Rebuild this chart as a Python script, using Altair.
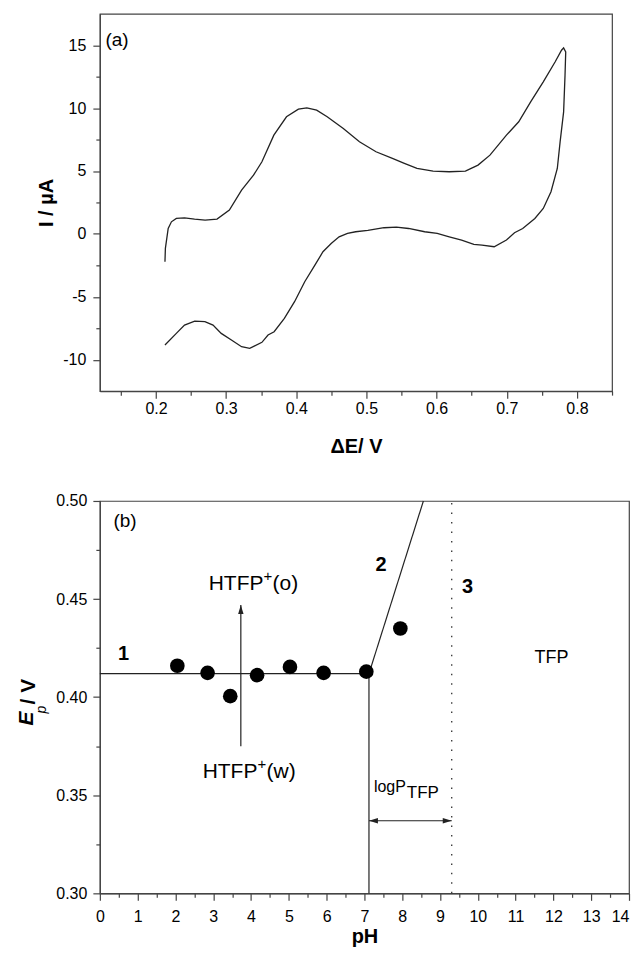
import altair as alt
import pandas as pd

FONT = "Liberation Sans"
INK = "#222222"
FRAME = "#444444"

# ---------------- (a) cyclic voltammogram ----------------
cv_E = [0.2128, 0.2134, 0.2174, 0.222, 0.229, 0.2407, 0.255, 0.270, 0.287, 0.3046,
        0.322, 0.339, 0.351, 0.368, 0.386, 0.403, 0.415, 0.429, 0.444, 0.467,
        0.490, 0.5136, 0.537, 0.554, 0.572, 0.595, 0.618, 0.641, 0.659, 0.676,
        0.6995, 0.717, 0.734, 0.752, 0.769, 0.778, 0.781, 0.784, 0.783, 0.781,
        0.776, 0.772, 0.763, 0.752, 0.740, 0.7227, 0.711, 0.6995, 0.682, 0.6647,
        0.653, 0.6356, 0.618, 0.6008, 0.583, 0.560, 0.5427, 0.525, 0.502, 0.4846,
        0.473, 0.461, 0.4497, 0.438, 0.4265, 0.412, 0.3975, 0.383, 0.3684, 0.3597,
        0.351, 0.3336, 0.322, 0.3075, 0.293, 0.2813, 0.2697, 0.2552, 0.2407, 0.229,
        0.2128]
cv_I = [-2.21, -1.15, 0.43, 0.96, 1.23, 1.28, 1.18, 1.10, 1.18, 1.89,
        3.48, 4.67, 5.73, 7.85, 9.31, 9.92, 10.02, 9.84, 9.31, 8.38,
        7.32, 6.53, 6.0, 5.60, 5.2, 4.99, 4.94, 4.99, 5.47, 6.26,
        7.85, 8.91, 10.5, 12.09, 13.68, 14.6, 14.79, 14.47, 12.6, 9.7,
        7.32, 5.2, 3.35, 2.02, 1.23, 0.43, 0.09, -0.49, -1.02, -0.89,
        -0.84, -0.49, -0.23, 0.04, 0.17, 0.43, 0.54, 0.49, 0.28, 0.17,
        0.04, -0.23, -0.76, -1.42, -2.48, -3.80, -5.39, -6.72, -7.78, -8.04,
        -8.62, -9.1, -8.97, -8.44, -7.91, -7.25, -6.98, -6.93, -7.25, -7.91,
        -8.83]

a_x_ticks = [0.15, 0.2, 0.25, 0.3, 0.35, 0.4, 0.45, 0.5, 0.55, 0.6, 0.65, 0.7, 0.75, 0.8, 0.85]
a_y_ticks = [-10, -7.5, -5, -2.5, 0, 2.5, 5, 7.5, 10, 12.5, 15]

# ---------------- (b) Ep vs pH ----------------
ph_vals = [2.05, 2.85, 3.45, 4.16, 5.03, 5.92, 7.05, 7.95]
ep_vals = [0.416, 0.4124, 0.4005, 0.4112, 0.4154, 0.4124, 0.413, 0.435]

seg_x1 = [0.0, 7.12, 7.12, 3.73, 7.12]
seg_y1 = [0.412, 0.300, 0.412, 0.375, 0.337]
seg_x2 = [7.12, 7.12, 8.56, 3.73, 9.31]
seg_y2 = [0.412, 0.412, 0.500, 0.447, 0.337]

dot_x = [9.31]
dot_y1 = [0.30]
dot_y2 = [0.50]

head_x = [3.73, 7.12, 9.31]
head_y = [0.447, 0.337, 0.337]
head_path = ["M0,0L-0.3,1L0.3,1Z", "M0,0L1,-0.3L1,0.3Z", "M0,0L-1,-0.3L-1,0.3Z"]

b_x_ticks = [i / 2 for i in range(29)]
b_y_ticks = [0.300, 0.325, 0.350, 0.375, 0.400, 0.425, 0.450, 0.475, 0.500]

# plain labels (left aligned, middle baseline); dx/dy place super/subscripts
lab_text = ["(b)", "HTFP", "+", "(o)", "HTFP", "+", "(w)", "TFP"]
lab_x = [0.36, 2.88, 2.88, 2.88, 2.72, 2.72, 2.72, 11.50]
lab_y = [0.4898, 0.4575, 0.4575, 0.4575, 0.362, 0.362, 0.362, 0.420]
lab_dx = [0, 0, 55, 64, 0, 55, 64, 0]
lab_dy = [0, 0, -8, 0, 0, -8, 0, 0]
lab_fs = [19, 21, 15, 21, 21, 15, 21, 18]

bold_text = ["1", "2", "3"]
bold_x = [0.63, 7.44, 9.73]
bold_y = [0.422, 0.4676, 0.4561]

logp_text = ["logP", "TFP"]
logp_x = [7.25, 7.25]
logp_y = [0.3516, 0.3485]
logp_dx = [0, 33]
logp_fs = [16, 17]


def major(expr_scaled):
    return f"abs({expr_scaled} - round({expr_scaled})) < 0.001"


def make_axis(cond, label, title, values, **kw):
    args = dict(
        values=values,
        labelExpr=f"({cond}) ? {label} : ''",
        tickSize={"condition": {"test": cond, "value": 7}, "value": 4},
        labelOverlap=False,
        labelFlush=False,
        grid=False,
        title=title,
    )
    args.update(kw)
    return alt.Axis(**args)


# ----- chart (a) -----
a_xcond = major("datum.value*10")
a_ycond = major("datum.value/5")
ax_a_x = make_axis(a_xcond, "format(datum.value, '.1f')", "\u0394E/ V", a_x_ticks,
                   labelPadding=2, titlePadding=20)
ax_a_y = make_axis(a_ycond, "datum.value + ''", "I / \u00b5A", a_y_ticks,
                   labelPadding=7, titlePadding=6)
sx_a = alt.Scale(domain=[0.12, 0.85], nice=False, zero=False)
sy_a = alt.Scale(domain=[-12.5, 17.5], nice=False, zero=False)

cv_df = pd.DataFrame({"E": cv_E, "I": cv_I, "i": list(range(len(cv_E)))})
cv_line = alt.Chart(cv_df).mark_line(color=INK, strokeWidth=1.3).encode(
    x=alt.X("E:Q", scale=sx_a, axis=ax_a_x),
    y=alt.Y("I:Q", scale=sy_a, axis=ax_a_y),
    order="i:Q",
)
a_lab = alt.Chart(pd.DataFrame({"t": ["(a)"], "E": [0.128], "I": [15.38]})).mark_text(
    font=FONT, fontSize=19, align="left", baseline="middle", color="black"
).encode(x=alt.X("E:Q", scale=sx_a, axis=ax_a_x), y=alt.Y("I:Q", scale=sy_a, axis=ax_a_y), text="t:N")

chart_a = alt.layer(cv_line, a_lab).properties(width=513, height=378)

# ----- chart (b) -----
b_xcond = major("datum.value")
b_ycond = major("datum.value*20")
ax_b_x = make_axis(b_xcond, "format(datum.value, 'd')", "pH", b_x_ticks,
                   labelPadding=8, titlePadding=2,
                   labelAlign={"condition": {"test": "datum.value >= 14", "value": "right"}, "value": "center"})
ax_b_y = make_axis(b_ycond, "format(datum.value, '.2f')", None, b_y_ticks, labelPadding=6)
sx_b = alt.Scale(domain=[0, 14], nice=False, zero=False)
sy_b = alt.Scale(domain=[0.30, 0.50], nice=False, zero=False)


def bx(f):
    return alt.X(f, scale=sx_b, axis=ax_b_x)


def by(f):
    return alt.Y(f, scale=sy_b, axis=ax_b_y)


seg_df = pd.DataFrame({"x": seg_x1, "y": seg_y1, "x2": seg_x2, "y2": seg_y2})
segs = alt.Chart(seg_df).mark_rule(color=INK, strokeWidth=1.2).encode(
    x=bx("x:Q"), y=by("y:Q"), x2="x2:Q", y2="y2:Q"
)
dot_df = pd.DataFrame({"x": dot_x, "y": dot_y1, "y2": dot_y2})
dotted = alt.Chart(dot_df).mark_rule(color=INK, strokeWidth=1.2, strokeDash=[1.5, 8]).encode(
    x=bx("x:Q"), y=by("y:Q"), y2="y2:Q"
)
head_df = pd.DataFrame({"x": head_x, "y": head_y, "p": head_path})
heads = alt.Chart(head_df).mark_point(filled=True, color=INK, opacity=1, size=324, strokeWidth=0).encode(
    x=bx("x:Q"), y=by("y:Q"), shape=alt.Shape("p:N", scale=None, legend=None)
)
pts_df = pd.DataFrame({"x": ph_vals, "y": ep_vals})
pts = alt.Chart(pts_df).mark_circle(color="black", opacity=1, size=215).encode(
    x=bx("x:Q"), y=by("y:Q")
)

lab_parts = []
for t, x, y, dx, dy, fs in zip(lab_text, lab_x, lab_y, lab_dx, lab_dy, lab_fs):
    lab_parts.append(
        alt.Chart(pd.DataFrame({"t": [t], "x": [x], "y": [y]})).mark_text(
            font=FONT, fontSize=fs, align="left", baseline="middle", dx=dx, dy=dy, color="black"
        ).encode(x=bx("x:Q"), y=by("y:Q"), text="t:N")
    )
bold_df = pd.DataFrame({"t": bold_text, "x": bold_x, "y": bold_y})
bold_lab = alt.Chart(bold_df).mark_text(
    font=FONT, fontSize=20, fontWeight="bold", align="center", baseline="middle", color="black"
).encode(x=bx("x:Q"), y=by("y:Q"), text="t:N")
logp_parts = []
for t, x, y, dx, fs in zip(logp_text, logp_x, logp_y, logp_dx, logp_fs):
    logp_parts.append(
        alt.Chart(pd.DataFrame({"t": [t], "x": [x], "y": [y]})).mark_text(
            font=FONT, fontSize=fs, align="left", baseline="alphabetic", dx=dx, color="black"
        ).encode(x=bx("x:Q"), y=by("y:Q"), text="t:N")
    )

# y-axis title "E_p / V" built from styled text pieces
yt_text = ["E", "p", "/ V"]
yt_px = [-73, -58, -71]
yt_py = [218, 209, 191]
yt_style = [("bold", "italic", 21), ("normal", "italic", 14), ("bold", "normal", 21)]
yt_parts = []
for t, px, py, (fw, fst, fs) in zip(yt_text, yt_px, yt_py, yt_style):
    yt_parts.append(
        alt.Chart(pd.DataFrame({"t": [t]})).mark_text(
            font=FONT, fontSize=fs, fontWeight=fw, fontStyle=fst, angle=270,
            align="center", baseline="middle", color="black"
        ).encode(x=alt.value(px), y=alt.value(py), text="t:N")
    )

chart_b = alt.layer(segs, dotted, heads, pts, bold_lab, *lab_parts, *logp_parts, *yt_parts).properties(
    width=530, height=393
)

chart = alt.vconcat(chart_a, chart_b, spacing=35).properties(
    padding={"left": 7, "top": 4, "right": 0, "bottom": 0}
).configure_view(
    stroke=FRAME, strokeWidth=1.2
).configure_axis(
    domainColor=FRAME, tickColor=FRAME, domainWidth=1.2, tickWidth=1.2,
    labelFont=FONT, labelFontSize=16, labelColor="black",
    titleFont=FONT, titleFontSize=20, titleFontWeight="bold", titleColor="black",
)

chart.save("out.html", embed_options={"renderer": "svg", "actions": False})
